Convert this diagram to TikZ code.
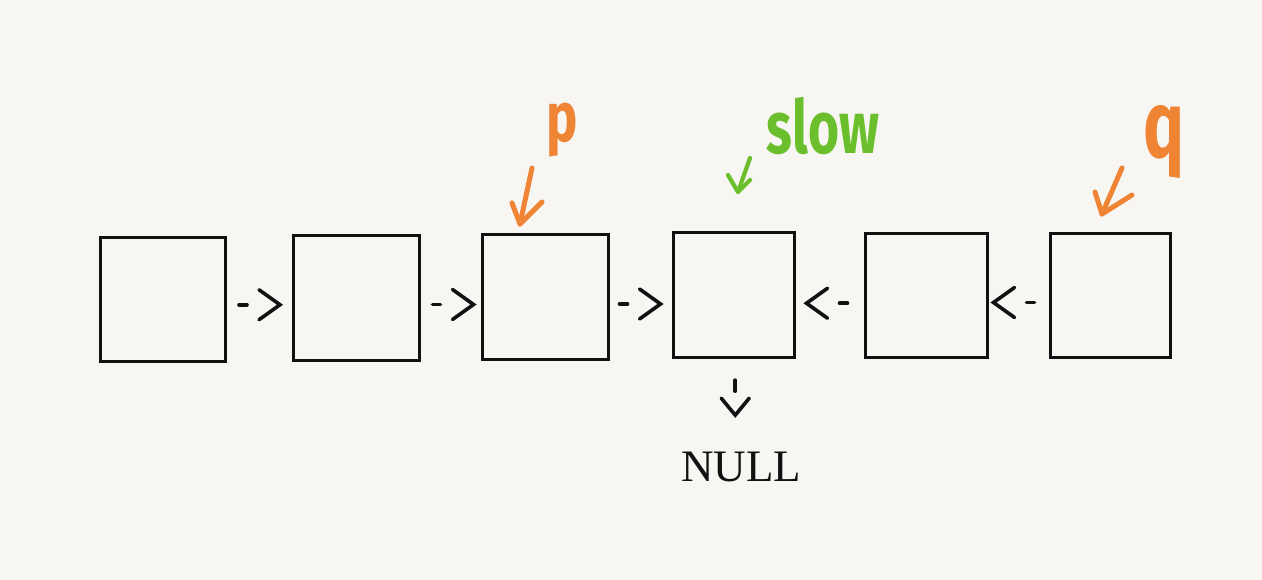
\documentclass[tikz,border=0pt]{standalone}
\usepackage{fontspec}
\newfontfamily\handfont{Fira Sans}
\newfontfamily\serifnull{Liberation Serif}
\usetikzlibrary{calc}
\definecolor{paper}{HTML}{F7F6F3}
\definecolor{ink}{HTML}{111111}
\definecolor{orng}{HTML}{EE8434}
\definecolor{grn}{HTML}{6CBF2C}
\tikzset{
  cell/.style={draw=ink, line width=3pt, rectangle, inner sep=0pt},
  glyph/.style={draw=ink, line width=3.6pt, line cap=round, line join=miter},
  pointer/.style={line width=5pt, line cap=round, line join=round},
  rarr/.pic={\draw[glyph] (-20,0) -- (-12,0); \draw[glyph] (0,-15) -- (21,0) -- (0,15);},
  larr/.pic={\draw[glyph] (20,0) -- (12,0); \draw[glyph] (0,-15) -- (-21,0) -- (0,15);},
  darr/.pic={\draw[glyph] (0,-18) -- (0,-7); \draw[glyph] (-14,0) -- (0,17) -- (14,0);},
  lbl/.style={inner sep=0pt}
}
\begin{document}
\begin{tikzpicture}[x=1pt,y=-1pt]
\fill[paper] (0,0) rectangle (1262,580);
\useasboundingbox (0,0) rectangle (1262,580);
% cells
\node[cell, minimum width=125pt, minimum height=123pt] (b1) at (162.5,299.5) {};
\node[cell, minimum width=126pt, minimum height=124pt] (b2) at (356,298) {};
\node[cell, minimum width=126pt, minimum height=124pt] (b3) at (545,297) {};
\node[cell, minimum width=121pt, minimum height=124pt] (b4) at (733.5,295) {};
\node[cell, minimum width=122pt, minimum height=123pt] (b5) at (926,295.5) {};
\node[cell, minimum width=120pt, minimum height=123pt] (b6) at (1110,295.5) {};
% links
\path ($(b1.east)!0.5!(b2.west)$) +(0,6) pic {rarr};
\path ($(b2.east)!0.5!(b3.west)$) +(2,7) pic {rarr};
\path ($(b3.east)!0.5!(b4.west)$) +(-1,8) pic {rarr};
\path ($(b4.east)!0.5!(b5.west)$) +(-2,8) pic {larr};
\path ($(b5.east)!0.5!(b6.west)$) +(-4,7) pic {larr};
% NULL
\node[inner sep=0pt, font=\serifnull\fontsize{45}{50}\selectfont, text=ink] (null) at (741,467) {NULL};
\path ($(b4.south)!0.5!(null.north)$) +(-2,-7) pic {darr};
% labels
\node[lbl, text=orng, font=\handfont\bfseries\fontsize{70}{80}\selectfont, xscale=0.75] (p) at (562,130) {p};
\node[lbl, text=grn, font=\handfont\bfseries\fontsize{74}{80}\selectfont, xscale=0.72] (slow) at (823,126) {slow};
\node[lbl, text=orng, font=\handfont\bfseries\fontsize{95}{100}\selectfont, xscale=0.72] (q) at (1164,142) {q};
% pointers
\coordinate (pa) at (532,168); \coordinate (pt) at (520,224);
\draw[pointer, orng] (pa) -- (pt);
\draw[pointer, orng] (512,203) -- (pt) -- (542,202);
\coordinate (sa) at (750,158); \coordinate (st) at (738,192);
\draw[pointer, grn, line width=4.2pt] (sa) -- (st);
\draw[pointer, grn, line width=4.2pt] (728,175) -- (st) -- (750,180);
\coordinate (qa) at (1122,168); \coordinate (qt) at (1102,214);
\draw[pointer, orng] (qa) -- (qt);
\draw[pointer, orng] (1095,192) -- (qt) -- (1132,195);
\end{tikzpicture}
\end{document}
